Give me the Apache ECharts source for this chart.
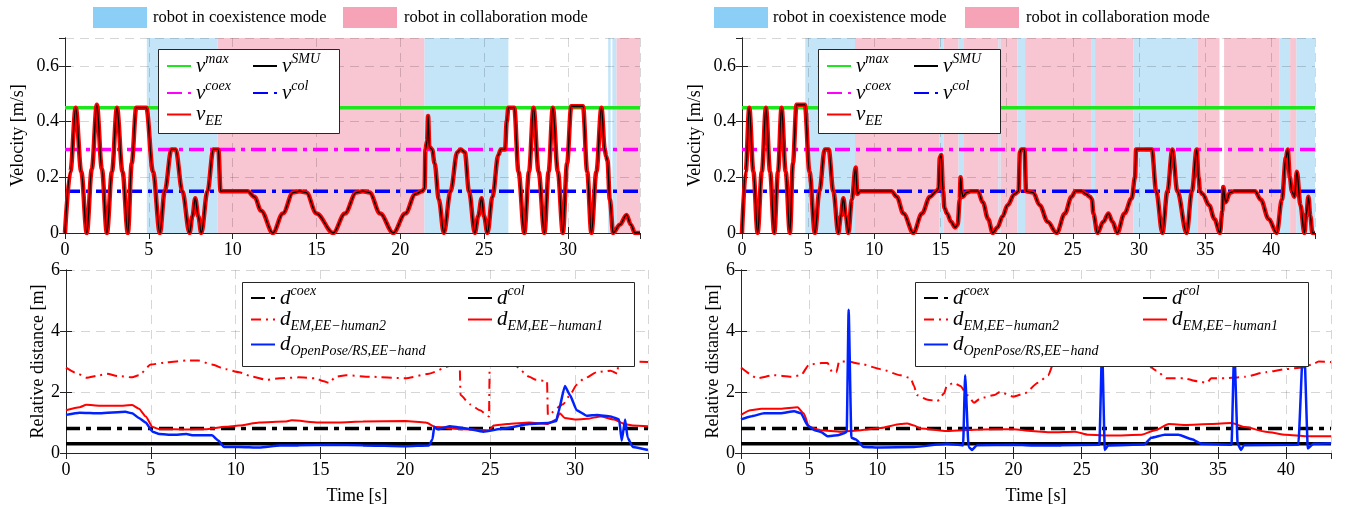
<!DOCTYPE html>
<html>
<head>
<meta charset="utf-8">
<script src="https://cdn.jsdelivr.net/npm/echarts@6/dist/echarts.min.js"></script>
<style>
html, body { margin: 0; padding: 0; background: #fff; }
#chart { width: 1347px; height: 506px; }
</style>
</head>
<body>
<div id="chart"></div>
<script>
// ---- data ----
const tMaxLeft = 34.3
const tMaxRight = 43.3
const vMax = 0.45
const vCoex = 0.3
const vCol = 0.15
const dCoex = 0.8
const dCol = 0.3

// mode intervals [start, end] in seconds
const coexLeft = [[4.88, 9.1], [21.43, 26.45], [32.4, 32.55], [32.65, 32.9]]
const collabLeft = [[9.1, 21.43], [32.9, 34.3]]
const coexRight = [[4.78, 8.54], [14.91, 15.22], [16.35, 16.78], [19.37, 19.55], [20.81, 21.39],
  [26.43, 26.68], [29.58, 34.41], [40.59, 41.42], [41.88, 43.3]]
const collabRight = [[8.54, 14.91], [15.22, 16.35], [16.78, 19.37], [19.55, 20.81], [21.39, 26.43],
  [26.68, 29.58], [34.41, 36.08], [36.43, 40.59], [41.42, 41.88]]

// velocity of the SMU / end effector [t, v]
const vSmuLeft = [
  [0, 0], [0.32, 0.22], [0.64, 0.45], [0.97, 0.22], [1.3, 0],
  [1.6, 0.23], [1.9, 0.46], [2.2, 0.23], [2.5, 0],
  [2.8, 0.22], [3.1, 0.45], [3.43, 0.22], [3.75, 0],
  [3.98, 0.25], [4.25, 0.45], [4.85, 0.45], [5.25, 0.22], [5.66, 0],
  [5.95, 0.15], [6.35, 0.3], [6.6, 0.3], [7.0, 0.15], [7.43, 0],
  [7.6, 0.06], [7.77, 0.125], [7.95, 0.06], [8.13, 0],
  [8.5, 0.15], [8.85, 0.3], [9.15, 0.3], [9.28, 0.15],
  [10.9, 0.15], [11.3, 0.13], [11.7, 0.08], [12.4, 0],
  [13.0, 0.07], [13.6, 0.145], [14.0, 0.15], [14.4, 0.145], [15.0, 0.07], [16.0, 0],
  [16.7, 0.07], [17.37, 0.145], [17.77, 0.15], [18.17, 0.145], [18.8, 0.07], [19.58, 0],
  [20.3, 0.07], [20.9, 0.14], [21.3, 0.15], [21.45, 0.16], [21.5, 0.3], [21.6, 0.33], [21.66, 0.42],
  [21.73, 0.31], [21.9, 0.3], [22.05, 0.25], [22.3, 0.12], [22.6, 0],
  [23.0, 0.15], [23.4, 0.29], [23.6, 0.3], [23.85, 0.29], [24.1, 0.15], [24.45, 0],
  [24.65, 0.06], [24.85, 0.125], [25.0, 0.06], [25.2, 0],
  [25.5, 0.13], [25.85, 0.28], [26.0, 0.3], [26.25, 0.3], [26.35, 0.4], [26.45, 0.45], [26.8, 0.45], [27.05, 0.22], [27.4, 0],
  [27.68, 0.22], [27.95, 0.45], [28.25, 0.22], [28.6, 0],
  [28.85, 0.22], [29.1, 0.45], [29.4, 0.22], [29.7, 0],
  [29.95, 0.25], [30.2, 0.455], [30.9, 0.455], [31.15, 0.22], [31.4, 0],
  [31.7, 0.22], [32.0, 0.45], [32.2, 0.3], [32.28, 0.275], [32.36, 0.26], [32.5, 0.12], [32.7, 0],
  [33.1, 0.03], [33.5, 0.065], [33.75, 0.03], [34.0, 0], [34.3, 0]
]
const vSmuRight = [
  [0, 0], [0.28, 0.22], [0.55, 0.45], [0.86, 0.22], [1.18, 0],
  [1.5, 0.22], [1.81, 0.45], [2.12, 0.22], [2.44, 0],
  [2.72, 0.22], [2.99, 0.45], [3.3, 0.22], [3.62, 0],
  [3.85, 0.25], [4.12, 0.46], [4.75, 0.46], [5.1, 0.22], [5.51, 0],
  [5.85, 0.15], [6.25, 0.3], [6.55, 0.3], [6.9, 0.15], [7.28, 0],
  [7.47, 0.06], [7.66, 0.125], [7.85, 0.06], [8.04, 0],
  [8.3, 0.12], [8.59, 0.235], [8.72, 0.14], [8.92, 0.15], [11.3, 0.15], [11.7, 0.13], [12.2, 0.07], [12.95, 0],
  [13.6, 0.07], [14.2, 0.13], [14.7, 0.15], [14.85, 0.16], [14.95, 0.27], [15.05, 0.28], [15.2, 0.15],
  [15.3, 0.09], [15.5, 0.07], [15.8, 0.04], [16.1, 0.02], [16.3, 0.03], [16.45, 0.12], [16.52, 0.2],
  [16.6, 0.15], [16.7, 0.13], [16.95, 0.145], [17.3, 0.15], [17.83, 0.15], [18.2, 0.11], [18.6, 0.05], [18.95, 0],
  [19.3, 0.02], [19.7, 0.06], [20.07, 0.1], [20.6, 0.14], [20.9, 0.15], [21.0, 0.29], [21.1, 0.3], [21.35, 0.3],
  [21.47, 0.15], [22.0, 0.145], [22.5, 0.1], [23.1, 0.04], [23.78, 0],
  [24.4, 0.07], [24.9, 0.13], [25.2, 0.15], [25.67, 0.15], [26.0, 0.14], [26.3, 0.13], [26.45, 0.12], [26.55, 0.07], [26.86, 0],
  [27.3, 0.04], [27.69, 0.07], [28.0, 0.04], [28.36, 0],
  [28.9, 0.07], [29.45, 0.125], [29.7, 0.2], [29.78, 0.3], [30.97, 0.3], [31.3, 0.15], [31.77, 0],
  [32.15, 0.15], [32.52, 0.3], [32.9, 0.15], [33.6, 0],
  [34.0, 0.15], [34.36, 0.3], [34.5, 0.2], [34.61, 0.15], [34.8, 0.14], [35.3, 0.1], [35.7, 0.05], [36.12, 0],
  [36.3, 0.08], [36.37, 0.165], [36.55, 0.11], [36.88, 0.145], [37.2, 0.15], [38.77, 0.15], [39.2, 0.12], [39.8, 0.05], [40.41, 0],
  [40.8, 0.12], [41.1, 0.27], [41.24, 0.3], [41.4, 0.2], [41.55, 0.15], [41.75, 0.13], [41.93, 0.22], [42.2, 0.1], [42.5, 0],
  [42.65, 0.07], [42.8, 0.13], [42.95, 0.06], [43.1, 0], [43.3, 0]
]

// relative distances [t, d]
const dHuman2Left = [
  [0, 2.8], [0.7, 2.6], [1.2, 2.47], [2.0, 2.55], [2.4, 2.6], [3.1, 2.52], [3.9, 2.48], [4.3, 2.55], [5.0, 2.9],
  [5.9, 2.97], [7.1, 3.03], [7.8, 3.03], [8.6, 2.9], [9.4, 2.75], [10.2, 2.65], [11.0, 2.5], [11.8, 2.4], [12.6, 2.45],
  [13.7, 2.48], [14.7, 2.45], [15.2, 2.35], [15.5, 2.3], [15.9, 2.5], [16.5, 2.55], [17.9, 2.5], [20.0, 2.45],
  [21.4, 2.6], [22.6, 2.85], [23.2, 2.95], [23.25, 1.9], [23.8, 1.6], [24.4, 1.4], [24.93, 1.2], [24.97, 2.9],
  [25.8, 2.95], [26.5, 2.85], [27.3, 2.5], [27.7, 2.4], [28.35, 2.35], [28.4, 1.25], [29.3, 1.6], [29.7, 1.9],
  [30.1, 2.24], [30.5, 2.43], [31.3, 2.65], [32.1, 2.7], [32.5, 2.6], [32.55, 3.0], [33.4, 3.0], [34.3, 2.98]
]
const dHuman1Left = [
  [0, 1.4], [0.8, 1.5], [1.2, 1.58], [2.0, 1.55], [3.1, 1.55], [3.9, 1.57], [4.3, 1.45], [4.7, 1.2], [5.1, 0.85],
  [5.5, 0.78], [7.1, 0.77], [8.2, 0.78], [9.4, 0.86], [10.2, 0.9], [11.4, 1.0], [12.9, 1.03], [13.3, 1.07],
  [14.9, 1.0], [16.1, 1.0], [17.5, 1.03], [20.0, 1.05], [21.2, 1.0], [21.8, 0.85], [23.4, 0.78], [24.95, 0.75],
  [25.2, 0.9], [26.0, 0.95], [27.3, 1.0], [28.4, 0.95], [28.9, 1.1], [29.1, 1.3], [29.4, 1.15], [30.0, 1.1],
  [30.7, 1.12], [31.5, 1.2], [32.3, 1.1], [32.9, 0.95], [33.4, 0.9], [34.3, 0.88]
]
const dHandLeft = [
  [0, 1.25], [0.8, 1.32], [2.0, 1.3], [3.5, 1.35], [3.9, 1.3], [4.3, 1.15], [4.7, 1.0], [5.1, 0.7], [5.5, 0.62],
  [6.3, 0.6], [7.1, 0.62], [7.5, 0.58], [8.6, 0.58], [9.0, 0.4], [9.3, 0.2], [10.2, 0.2], [11.4, 0.18], [12.6, 0.25],
  [13.7, 0.25], [15.7, 0.27], [17.5, 0.25], [20.0, 0.22], [21.4, 0.25], [21.6, 0.45], [21.7, 0.85], [21.9, 0.78],
  [22.6, 0.88], [23.4, 0.82], [24.6, 0.7], [25.8, 0.8], [27.3, 0.95], [28.4, 0.98], [28.9, 1.05], [29.0, 1.3],
  [29.4, 2.2], [29.7, 1.9], [30.1, 1.4], [30.7, 1.22], [31.3, 1.25], [32.1, 1.2], [32.6, 1.1], [32.75, 0.4],
  [32.95, 1.1], [33.1, 0.5], [33.4, 0.2], [34.3, 0.1]
]
const dHuman2Right = [
  [0, 2.8], [1.2, 2.45], [2.4, 2.55], [3.7, 2.5], [4.4, 2.55], [5.0, 2.9], [5.9, 2.95], [6.35, 2.95], [6.7, 2.65],
  [7.0, 2.65], [7.2, 3.0], [7.8, 3.0], [8.8, 2.92], [10.25, 2.75], [11.7, 2.55], [12.45, 2.45], [12.7, 2.2],
  [12.9, 1.9], [13.7, 1.75], [14.4, 1.7], [14.9, 1.95], [15.1, 2.2], [15.6, 2.3], [16.1, 2.2], [16.6, 1.9],
  [17.1, 1.65], [17.6, 1.8], [18.6, 1.9], [19.0, 2.0], [20.0, 1.85], [20.8, 1.95], [21.8, 2.3], [22.55, 2.55],
  [22.9, 2.9], [23.5, 3.0], [24.7, 2.95], [26.2, 2.85], [27.2, 2.95], [28.1, 2.9], [29.5, 3.0], [30.5, 2.7],
  [31.2, 2.45], [32.5, 2.45], [33.5, 2.35], [34.2, 2.3], [34.5, 2.45], [35.5, 2.45], [37.0, 2.5], [38.5, 2.65],
  [40.0, 2.75], [41.2, 2.8], [41.9, 2.9], [42.4, 3.0], [43.3, 2.98]
]
const dHuman1Right = [
  [0, 1.25], [0.7, 1.4], [1.5, 1.45], [2.9, 1.45], [4.15, 1.5], [4.6, 1.3], [5.0, 0.85], [5.9, 0.75], [7.3, 0.7],
  [8.8, 0.75], [10.25, 0.82], [11.7, 0.95], [12.2, 0.97], [12.7, 0.9], [13.2, 0.8], [15.1, 0.72], [17.6, 0.77],
  [20.0, 0.78], [21.3, 0.72], [22.8, 0.68], [24.5, 0.7], [25.5, 0.6], [27.2, 0.57], [29.4, 0.6], [30.4, 0.75],
  [31.4, 0.95], [32.6, 0.92], [34.5, 0.95], [36.0, 0.98], [37.0, 0.85], [38.5, 0.7], [40.0, 0.6], [41.5, 0.55], [43.3, 0.55]
]
const dHandRight = [
  [0, 1.1], [0.7, 1.2], [1.7, 1.3], [2.9, 1.3], [3.9, 1.37], [4.4, 1.3], [4.9, 0.9], [5.4, 0.75], [5.9, 0.68],
  [6.35, 0.55], [7.1, 0.58], [7.57, 0.65], [7.76, 0.7], [7.9, 4.7], [8.1, 0.5], [8.4, 0.45], [9.0, 0.2],
  [10.25, 0.18], [12.7, 0.2], [15.1, 0.3], [16.3, 0.25], [16.45, 2.55], [16.7, 0.2], [16.95, 0.1], [17.3, 0.25],
  [20.0, 0.27], [21.3, 0.25], [23.5, 0.25], [26.3, 0.27], [26.5, 3.5], [26.7, 0.1], [26.95, 0.25], [29.6, 0.28],
  [30.1, 0.5], [31.1, 0.6], [32.1, 0.6], [33.1, 0.45], [33.8, 0.3], [36.0, 0.27], [36.2, 3.5], [36.45, 0.3],
  [36.7, 0.1], [36.9, 0.25], [40.9, 0.27], [41.3, 4.0], [41.6, 0.15], [42.0, 0.3], [43.3, 0.32]
]

// ---- styles ----
const FONT = 'Liberation Serif'
const AXIS_COLOR = '#262626'
const SHADE_BLUE = '#c4e5f8'
const SHADE_PINK = '#f8c5d2'
const PATCH_BLUE = '#8ccff6'
const PATCH_PINK = '#f6a3b7'
const DASHDOT = [15, 6, 4, 6]

const LABELS = {
  vmax: '{v|v}{sup|max}',
  vSMU: '{v|v}{sup|SMU}',
  vcoex: '{v|v}{sup|coex}',
  vcol: '{v|v}{sup|col}',
  vEE: '{v|v}{sub|EE}',
  dcoex: '{v|d}{sup|coex}',
  dcol: '{v|d}{sup|col}',
  dh2: '{v|d}{sub|EM,EE\u2212human2}',
  dh1: '{v|d}{sub|EM,EE\u2212human1}',
  dhand: '{v|d}{sub|OpenPose/RS,EE\u2212hand}'
}

const grids = [
  { left: 65, top: 38, width: 575, height: 195 },
  { left: 742, top: 38, width: 573, height: 195 },
  { left: 66, top: 270, width: 582, height: 185 },
  { left: 741, top: 270, width: 590, height: 185 }
]
const panelX = [tMaxLeft, tMaxRight, tMaxLeft, tMaxRight]
const panelY = [[0.7, 0.2], [0.7, 0.2], [6, 2], [6, 2]]

const xAxes = []
const yAxes = []
for (let i = 0; i < 4; i++) {
  xAxes.push({
    gridIndex: i, type: 'value', min: 0, max: panelX[i], interval: 5, position: 'bottom',
    axisLine: { show: true, lineStyle: { color: AXIS_COLOR, width: 1 } },
    axisTick: { show: true, inside: true, length: 6, lineStyle: { color: AXIS_COLOR } },
    axisLabel: { fontFamily: FONT, fontSize: 18, color: '#000', margin: 8, showMaxLabel: false },
    splitLine: { show: false },
    name: i >= 2 ? 'Time [s]' : '',
    nameLocation: 'middle', nameGap: 34,
    nameTextStyle: { fontFamily: FONT, fontSize: 18, color: '#000' }
  })
}
for (let i = 0; i < 4; i++) {
  xAxes.push({
    gridIndex: i, type: 'value', min: 0, max: panelX[i], interval: 5, position: 'top', z: 3,
    axisLine: { show: true, lineStyle: { color: AXIS_COLOR, width: 1 } },
    axisTick: { show: true, inside: true, length: 6, lineStyle: { color: AXIS_COLOR } },
    axisLabel: { show: false },
    splitLine: { show: true, lineStyle: { color: 'rgba(0,0,0,0.16)', type: [9, 6], width: 1 } }
  })
}
for (let i = 0; i < 4; i++) {
  yAxes.push({
    gridIndex: i, type: 'value', min: 0, max: panelY[i][0], interval: panelY[i][1], position: 'left',
    axisLine: { show: true, lineStyle: { color: AXIS_COLOR, width: 1 } },
    axisTick: { show: true, inside: true, length: 6, lineStyle: { color: AXIS_COLOR } },
    axisLabel: { fontFamily: FONT, fontSize: 18, color: '#000', margin: 6, showMaxLabel: i >= 2 },
    splitLine: { show: false },
    name: i < 2 ? 'Velocity [m/s]' : 'Relative distance [m]',
    nameLocation: 'middle', nameGap: i < 2 ? 38 : 18,
    nameTextStyle: { fontFamily: FONT, fontSize: 18, color: '#000' }
  })
}
for (let i = 0; i < 4; i++) {
  yAxes.push({
    gridIndex: i, type: 'value', min: 0, max: panelY[i][0], interval: panelY[i][1], position: 'right', z: 3,
    axisLine: { show: true, lineStyle: { color: AXIS_COLOR, width: 1 } },
    axisTick: { show: true, inside: true, length: 6, lineStyle: { color: AXIS_COLOR } },
    axisLabel: { show: false },
    splitLine: { show: true, lineStyle: { color: 'rgba(0,0,0,0.16)', type: [9, 6], width: 1 } }
  })
}

const line = (name, i, data, color, width, type, z, smooth) => ({
  name, type: 'line', xAxisIndex: i, yAxisIndex: i, data,
  symbol: 'none', z: z || 4, silent: true, animation: false,
  smooth: smooth || false, smoothMonotone: 'x',
  lineStyle: { color, width, type: type || 'solid', cap: 'butt' },
  itemStyle: { color }
})
const flat = (tMax, v) => [[0, v], [tMax, v]]

const shade = (i, coex, collab) => ({
  type: 'line', xAxisIndex: i, yAxisIndex: i, data: [], z: 1, silent: true,
  markArea: {
    silent: true,
    data: coex.map(s => [{ xAxis: s[0], itemStyle: { color: SHADE_BLUE } }, { xAxis: s[1] }])
      .concat(collab.map(s => [{ xAxis: s[0], itemStyle: { color: SHADE_PINK } }, { xAxis: s[1] }]))
  }
})

const series = [
  shade(0, coexLeft, collabLeft),
  shade(1, coexRight, collabRight),
  line('vmax', 0, flat(tMaxLeft, vMax), '#1ee61e', 3.5),
  line('vcoex', 0, flat(tMaxLeft, vCoex), '#ff00ff', 3.5, DASHDOT),
  line('vcol', 0, flat(tMaxLeft, vCol), '#0000ff', 3.5, DASHDOT),
  line('vEE', 0, vSmuLeft, '#ff0000', 4.5, 'solid', 5, 0.35),
  line('vSMU', 0, vSmuLeft, '#000000', 1.3, 'solid', 6, 0.35),
  line('vmax', 1, flat(tMaxRight, vMax), '#1ee61e', 3.5),
  line('vcoex', 1, flat(tMaxRight, vCoex), '#ff00ff', 3.5, DASHDOT),
  line('vcol', 1, flat(tMaxRight, vCol), '#0000ff', 3.5, DASHDOT),
  line('vEE', 1, vSmuRight, '#ff0000', 4.5, 'solid', 5, 0.35),
  line('vSMU', 1, vSmuRight, '#000000', 1.3, 'solid', 6, 0.35),
  line('dcoex', 2, flat(tMaxLeft, dCoex), '#000000', 3.5, [14, 6, 5, 6]),
  line('dcol', 2, flat(tMaxLeft, dCol), '#000000', 3.5),
  line('dh2', 2, dHuman2Left, '#ff0000', 2, [10, 5, 2, 5], 4, 0.2),
  line('dh1', 2, dHuman1Left, '#ff0000', 2, 'solid', 4, 0.2),
  line('dhand', 2, dHandLeft, '#0022ff', 2.5, 'solid', 4, 0.15),
  line('dcoex', 3, flat(tMaxRight, dCoex), '#000000', 3.5, [14, 6, 5, 6]),
  line('dcol', 3, flat(tMaxRight, dCol), '#000000', 3.5),
  line('dh2', 3, dHuman2Right, '#ff0000', 2, [10, 5, 2, 5], 4, 0.2),
  line('dh1', 3, dHuman1Right, '#ff0000', 2, 'solid', 4, 0.2),
  line('dhand', 3, dHandRight, '#0022ff', 2.5, 'solid', 4, 0.15)
]

// one legend entry placed at (left, top)
const richText = {
  v: { fontFamily: FONT, fontStyle: 'italic', fontSize: 21, lineHeight: 28, color: '#000' },
  sup: { fontFamily: FONT, fontStyle: 'italic', fontSize: 14, lineHeight: 14, verticalAlign: 'top', color: '#000' },
  sub: { fontFamily: FONT, fontStyle: 'italic', fontSize: 14, lineHeight: 12, verticalAlign: 'bottom', color: '#000' }
}
const entry = (name, left, top) => ({
  data: [name], left, top, orient: 'vertical', padding: 0, z: 12,
  itemWidth: 24, itemHeight: 10, selectedMode: false,
  itemStyle: { opacity: 0 },
  formatter: n => LABELS[n],
  textStyle: { rich: richText }
})
const legends = [
  entry('vmax', 166, 52), entry('vSMU', 252, 52), entry('vcoex', 166, 79), entry('vcol', 252, 79), entry('vEE', 166, 104),
  entry('vmax', 826, 52), entry('vSMU', 913, 52), entry('vcoex', 826, 79), entry('vcol', 913, 79), entry('vEE', 826, 104),
  entry('dcoex', 250, 284), entry('dcol', 467, 284), entry('dh2', 250, 309), entry('dh1', 467, 309), entry('dhand', 250, 334),
  entry('dcoex', 923, 284), entry('dcol', 1142, 284), entry('dh2', 923, 309), entry('dh1', 1142, 309), entry('dhand', 923, 334)
]

const box = (x, y, w, h) => ({
  type: 'rect', z: 10, silent: true,
  shape: { x: x + 0.5, y: y + 0.5, width: w, height: h },
  style: { fill: '#fff', stroke: AXIS_COLOR, lineWidth: 1 }
})
const patch = (x, color) => ({ type: 'rect', silent: true, shape: { x, y: 7, width: 54, height: 21 }, style: { fill: color } })
const caption = (x, text) => ({
  type: 'text', silent: true, x, y: 18,
  style: { text, font: '16.5px "Liberation Serif"', fill: '#000', verticalAlign: 'middle' }
})

const chart = echarts.init(document.getElementById('chart'))
chart.setOption({
  animation: false,
  backgroundColor: '#fff',
  grid: grids,
  xAxis: xAxes,
  yAxis: yAxes,
  legend: legends,
  series,
  graphic: [
    box(158, 49, 181, 84), box(818, 49, 182, 84),
    box(242, 282, 392, 84), box(915, 282, 393, 84),
    patch(93, PATCH_BLUE), caption(153, 'robot in coexistence mode'),
    patch(343, PATCH_PINK), caption(404, 'robot in collaboration mode'),
    patch(714, PATCH_BLUE), caption(773, 'robot in coexistence mode'),
    patch(965, PATCH_PINK), caption(1026, 'robot in collaboration mode')
  ]
})
</script>
</body>
</html>
